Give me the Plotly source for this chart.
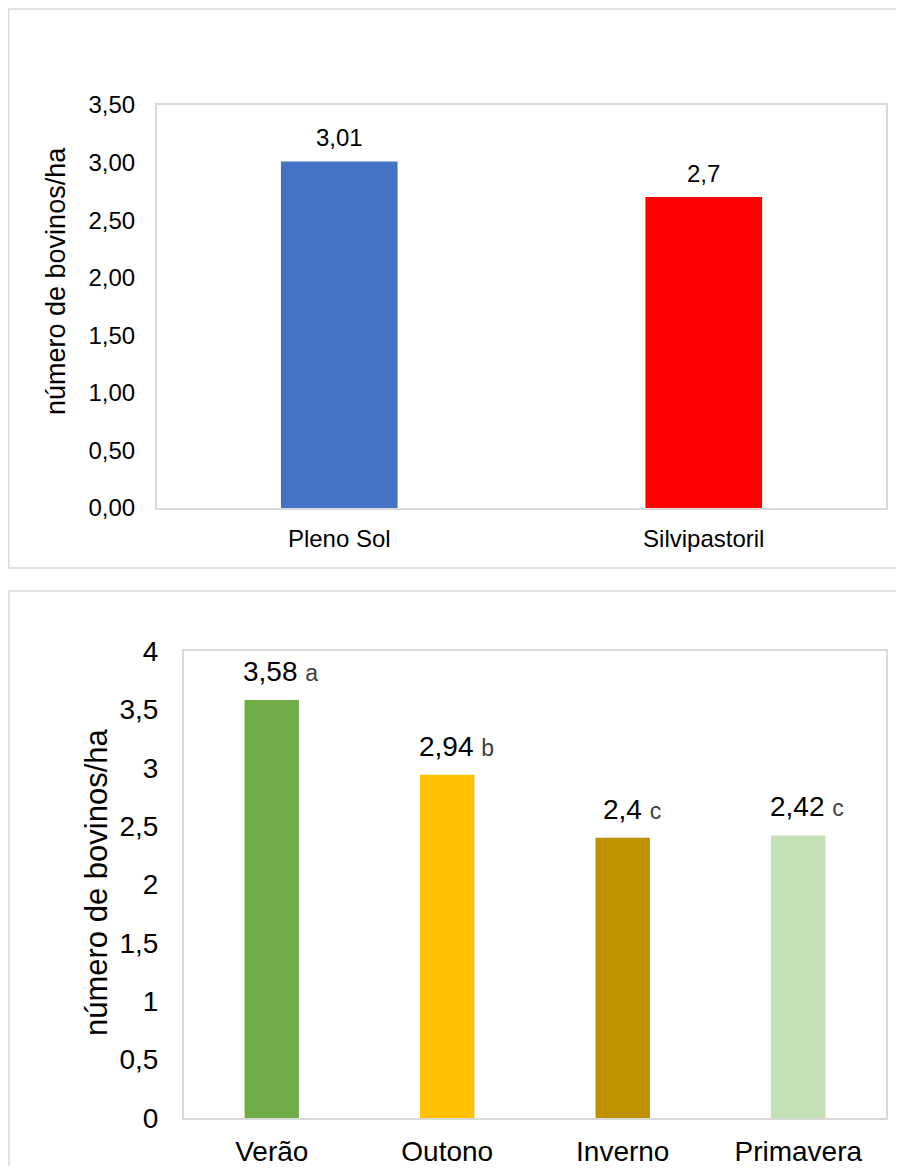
import plotly.graph_objects as go

# dados
sistemas = ["Pleno Sol", "Silvipastoril"]
lotacao_sistema = [3.01, 2.7]
estacoes = ["Verão", "Outono", "Inverno", "Primavera"]
lotacao_estacao = [3.58, 2.94, 2.4, 2.42]
letras = ["a", "b", "c", "c"]

cores_sistema = ["#4472C4", "#FF0000"]
cores_estacao = ["#70AD47", "#FFC000", "#BF9000", "#C5E0B4"]

# a página tem margem de 8px no body: a figura ocupa o resto da janela
MARGEM = 8
W, H = 904 - MARGEM, 1174 - 2 * MARGEM
FONTE = "Arial, Liberation Sans, sans-serif"
BORDA = "#D9D9D9"


def px(x):
    return (x - MARGEM) / W


def py(y):
    return 1 - (y - MARGEM) / H


def virgula(v):
    return str(v).replace(".", ",")


fig = go.Figure()

fig.add_trace(go.Bar(
    x=sistemas, y=lotacao_sistema, width=0.32,
    marker=dict(color=cores_sistema, line=dict(width=0)),
    xaxis="x", yaxis="y", hoverinfo="x+y",
))
fig.add_trace(go.Bar(
    x=estacoes, y=lotacao_estacao, width=0.31,
    marker=dict(color=cores_estacao, line=dict(width=0)),
    xaxis="x2", yaxis="y2", hoverinfo="x+y",
))

anotacoes = []
# rótulos de dados
for s, v in zip(sistemas, lotacao_sistema):
    anotacoes.append(dict(
        x=s, y=v, xref="x", yref="y", text=virgula(v), showarrow=False,
        yanchor="bottom", yshift=8, font=dict(size=24, color="#000000"),
    ))
for e, v, l in zip(estacoes, lotacao_estacao, letras):
    anotacoes.append(dict(
        x=e, y=v, xref="x2", yref="y2", showarrow=False,
        text=virgula(v) + " <span style='font-size:23px;color:#404040'>" + l + "</span>",
        yanchor="bottom", yshift=11, xshift=9, font=dict(size=28, color="#000000"),
    ))
# títulos do eixo y
anotacoes.append(dict(
    x=px(56), y=py(281), xref="paper", yref="paper", text="número de bovinos/ha",
    xanchor="center", yanchor="middle",
    textangle=-90, showarrow=False, font=dict(size=27, color="#000000"),
))
anotacoes.append(dict(
    x=px(96), y=py(882), xref="paper", yref="paper", text="número de bovinos/ha",
    xanchor="center", yanchor="middle",
    textangle=-90, showarrow=False, font=dict(size=31, color="#000000"),
))

# bordas das áreas do gráfico
formas = [
    dict(type="rect", xref="paper", yref="paper", x0=px(8.8), x1=px(906), y0=py(568), y1=py(9),
         line=dict(color=BORDA, width=1.5)),
    dict(type="rect", xref="paper", yref="paper", x0=px(9), x1=px(906), y0=py(1190), y1=py(591),
         line=dict(color=BORDA, width=1.5)),
]

eixo_x = dict(showgrid=False, showline=True, mirror=True, linecolor=BORDA, linewidth=2,
              ticks="", fixedrange=True, automargin=False)
eixo_y = dict(showgrid=False, showline=True, mirror=True, linecolor=BORDA, linewidth=2,
              zeroline=False, ticks="", fixedrange=True, automargin=False)

fig.update_layout(
    width=W, height=H,
    margin=dict(l=0, r=0, t=0, b=0, pad=0),
    paper_bgcolor="white", plot_bgcolor="white",
    showlegend=False,
    separators=",.",
    font=dict(family=FONTE, color="#000000"),
    xaxis=dict(eixo_x, domain=[px(157), px(886)], anchor="y",
               tickfont=dict(size=24), ticklabelstandoff=8),
    yaxis=dict(eixo_y, domain=[py(508), py(105)], anchor="x", range=[0, 3.5],
               tickvals=[0, 0.5, 1, 1.5, 2, 2.5, 3, 3.5], tickformat=".2f",
               tickfont=dict(size=24), ticklabelstandoff=15),
    xaxis2=dict(eixo_x, domain=[px(184), px(886)], anchor="y2",
                tickfont=dict(size=28), ticklabelstandoff=7),
    yaxis2=dict(eixo_y, domain=[py(1118), py(651)], anchor="x2", range=[0, 4],
                dtick=0.5, tickfont=dict(size=28), ticklabelstandoff=18),
    annotations=anotacoes,
    shapes=formas,
)

fig.write_html("out.html")
